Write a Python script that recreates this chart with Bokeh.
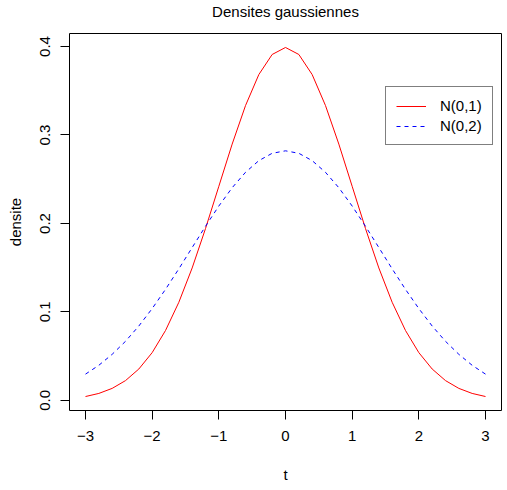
from bokeh.plotting import figure
from bokeh.models import Range1d, Legend, LegendItem, FixedTicker, Title
from bokeh.embed import file_html
from bokeh.resources import INLINE

# data
t = [-3.0, -2.8, -2.6, -2.4, -2.2, -2.0, -1.8, -1.6, -1.4, -1.2, -1.0,
     -0.8, -0.6, -0.4, -0.2, 0.0, 0.2, 0.4, 0.6, 0.8, 1.0,
     1.2, 1.4, 1.6, 1.8, 2.0, 2.2, 2.4, 2.6, 2.8, 3.0]
d_n01 = [0.0044, 0.0079, 0.0136, 0.0224, 0.0355, 0.0540, 0.0790, 0.1109, 0.1497, 0.1942, 0.2420,
         0.2897, 0.3332, 0.3683, 0.3910, 0.3989, 0.3910, 0.3683, 0.3332, 0.2897, 0.2420,
         0.1942, 0.1497, 0.1109, 0.0790, 0.0540, 0.0355, 0.0224, 0.0136, 0.0079, 0.0044]
d_n02 = [0.0297, 0.0397, 0.0521, 0.0668, 0.0841, 0.1038, 0.1255, 0.1487, 0.1728, 0.1968, 0.2197,
         0.2404, 0.2578, 0.2710, 0.2793, 0.2821, 0.2793, 0.2710, 0.2578, 0.2404, 0.2197,
         0.1968, 0.1728, 0.1487, 0.1255, 0.1038, 0.0841, 0.0668, 0.0521, 0.0397, 0.0297]
x_ticks = [-3, -2, -1, 0, 1, 2, 3]
y_ticks = [0.0, 0.1, 0.2, 0.3, 0.4]
labels = ["N(0,1)", "N(0,2)"]
title_text = "Densites gaussiennes"

FONT = "Liberation Sans"

p = figure(width=507, height=490, output_backend="svg", toolbar_location=None,
           x_range=Range1d(-3.24, 3.24), y_range=Range1d(-0.0114, 0.4147),
           min_border_left=69, min_border_right=6, min_border_top=33, min_border_bottom=80)

# spacer between frame and title, then the title itself (further from the frame)
p.add_layout(Title(text=" ", text_font_size="1px", text_line_height=0.5, standoff=11), "above")
p.add_layout(Title(text=title_text, text_font=FONT, text_font_size="15px",
                   text_font_style="normal", text_color="black", align="center",
                   text_line_height=0.7, standoff=0), "above")

p.grid.visible = False
p.outline_line_color = "black"
p.outline_line_width = 1
p.outline_line_alpha = 1.0

for ax in (p.xaxis[0], p.yaxis[0]):
    ax.axis_line_color = None
    ax.minor_tick_line_color = None
    ax.major_tick_in = 0
    ax.major_tick_out = 9
    ax.major_tick_line_color = "black"
    ax.major_label_text_font = FONT
    ax.major_label_text_font_size = "15px"
    ax.major_label_text_color = "black"
    ax.axis_label_text_font = FONT
    ax.axis_label_text_font_size = "15px"
    ax.axis_label_text_font_style = "normal"
    ax.axis_label_text_color = "black"

p.xaxis.ticker = FixedTicker(ticks=x_ticks)
p.yaxis.ticker = FixedTicker(ticks=y_ticks)
p.xaxis.major_label_overrides = {v: ("\u2212" + str(-v) if v < 0 else str(v)) for v in x_ticks}
p.yaxis.major_label_overrides = {v: f"{v:.1f}" for v in y_ticks}
p.yaxis.major_label_orientation = "vertical"
p.xaxis.axis_label = "t"
p.yaxis.axis_label = "densite"
p.xaxis.major_label_standoff = 11
p.yaxis.major_label_standoff = 10
p.xaxis.axis_label_standoff = 22
p.yaxis.axis_label_standoff = 14

r1 = p.line(t, d_n01, line_color="red", line_width=1)
r2 = p.line(t, d_n02, line_color="blue", line_width=1, line_dash="4 4")

legend = Legend(items=[LegendItem(label=labels[0], renderers=[r1]),
                       LegendItem(label=labels[1], renderers=[r2])],
                location=(316, 265))
legend.border_line_color = "black"
legend.border_line_width = 1
legend.background_fill_color = "white"
legend.background_fill_alpha = 1.0
legend.label_text_font = FONT
legend.label_text_font_size = "15px"
legend.label_text_color = "black"
legend.glyph_width = 30
legend.glyph_height = 16
legend.label_height = 16
legend.label_standoff = 14
legend.spacing = 3
legend.padding = 10
legend.margin = 0
p.add_layout(legend, "center")

open("out.html", "w").write(file_html(p, INLINE))
